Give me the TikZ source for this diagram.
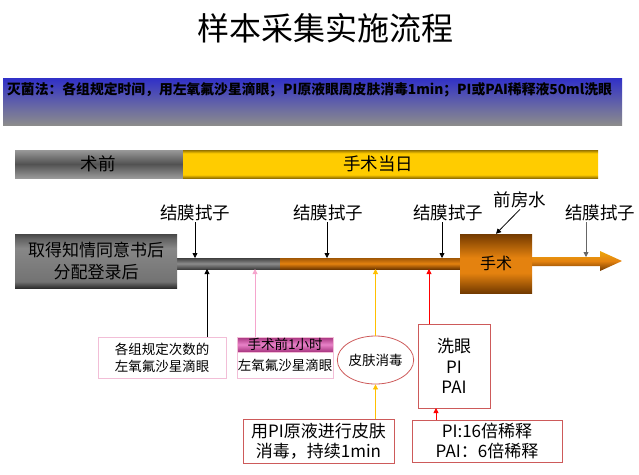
\documentclass[tikz,border=0pt]{standalone}
\usepackage{fontspec}
\setmainfont{Noto Sans CJK SC}
\usetikzlibrary{arrows.meta,positioning,shapes.geometric}
\definecolor{bandblue}{RGB}{48,48,200}
\definecolor{bandgray}{RGB}{140,140,140}
\definecolor{gold}{RGB}{255,204,0}
\definecolor{golddark}{RGB}{150,115,0}
\definecolor{orng}{RGB}{228,130,15}
\definecolor{orngdark}{RGB}{115,58,0}
\definecolor{pinkline}{RGB}{242,190,215}
\definecolor{pinkarrow}{RGB}{245,165,205}
\definecolor{pinkhead}{RGB}{232,130,200}
\definecolor{pinkdark}{RGB}{165,50,125}
\definecolor{redline}{RGB}{205,90,90}
\definecolor{yellowarrow}{RGB}{255,192,0}
\pgfdeclareverticalshading{graybox}{100bp}{color(0bp)=(black!82); color(25bp)=(black!82); color(31bp)=(black!55);
  color(62bp)=(black!47); color(71bp)=(black!62); color(75bp)=(black!72); color(100bp)=(black!72)}
\pgfdeclareverticalshading{goldbar}{100bp}{color(0bp)=(golddark); color(25bp)=(golddark); color(31bp)=(gold);
  color(69bp)=(gold); color(75bp)=(golddark); color(100bp)=(golddark)}
\pgfdeclareverticalshading{orngbox}{100bp}{color(0bp)=(orngdark); color(25bp)=(orngdark); color(42bp)=(orng);
  color(55bp)=(orng); color(75bp)=(orngdark); color(100bp)=(orngdark)}

\begin{document}
\begin{tikzpicture}[x=1pt,y=-1pt,>={Triangle[length=5pt,width=5pt]},
  lbl/.style={font=\fontsize{17.5}{19}\selectfont,inner sep=1pt},
  pinkbox/.style={draw=pinkline,fill=white,align=center,
    font=\fontsize{13.5}{17}\selectfont,inner sep=0pt},
  redbox/.style={draw=redline,fill=white,align=center,
    font=\fontsize{17}{20.5}\selectfont,inner sep=0pt,line width=0.8pt},
  link/.style={->,line width=0.8pt}]

\useasboundingbox (0,0) rectangle (639,474);

\node[font=\fontsize{32}{34}\selectfont] (title) at (325,28) {样本采集实施流程};

% 灭菌法
\shade[top color=bandblue,bottom color=bandgray] (3,78) rectangle (622,125);
\node[anchor=west,inner sep=0pt,font=\bfseries\fontsize{13.8}{16}\selectfont]
  (rule) at (7,90) {灭菌法：各组规定时间，用左氧氟沙星滴眼；PI原液眼周皮肤消毒1min；PI或PAI稀释液50ml洗眼};

% 阶段条
\shade[top color=black!40,bottom color=black!40,middle color=black!68] (15,150) rectangle (183,178);
\shade[shading=goldbar] (183,150) rectangle (598,178);
\node[lbl] (pre) at (98,164) {术前};
\node[lbl] (day) at (378,164) {手术当日};

% 时间轴
\shade[top color=black!75,bottom color=black!75,middle color=black!45] (177,258) rectangle (280,269);
\shade[top color=orngdark!60!orng,bottom color=orngdark,middle color=orng] (280,258) rectangle (460,269);
\shade[top color=orng!70!yellow,bottom color=orngdark,middle color=orng]
  (532,257) -- (600,257) -- (600,251) -- (622,261) -- (600,271) -- (600,266) -- (532,266) -- cycle;

\node[shading=graybox,minimum width=162pt,minimum height=54pt,
  align=center,font=\fontsize{17}{22}\selectfont] (consent) at (96,261) {取得知情同意书后\\分配登录后};
\node[shading=orngbox,minimum width=72pt,
  minimum height=59pt,font=\fontsize{16}{18}\selectfont] (op) at (496,263.5) {手术};

% 结膜拭子
\foreach \i/\lx/\ax in {1/195/195,2/328/327,3/448/442,4/600/586}{
  \node[lbl] (swab\i) at (\lx,213) {结膜拭子};
  \coordinate (hit\i) at (\ax,258);
}
\foreach \i in {1,2,3}{
  \draw[link] (swab\i.south -| hit\i) -- (hit\i);}
\draw[link,black!60] (swab4.south -| hit4) -- ([yshift=1pt]hit4);

\node[lbl] (aq) at (520,200) {前房水};
\draw[link] (aq.south) -- (op.north);

% 下方说明
\node[pinkbox,minimum width=128pt,minimum height=41pt] (drops) at (162,357.5) {各组规定次数的\\左氧氟沙星滴眼};
\node[pinkbox,top color=pinkdark,bottom color=pinkdark,middle color=pinkhead,
  minimum width=96pt,minimum height=15pt] (pre1h) at (285,344.5) {手术前1小时};
\node[pinkbox,minimum width=96pt,minimum height=26pt,anchor=north] (drops1h) at (pre1h.south) {左氧氟沙星滴眼};
\node[draw=redline,ellipse,line width=0.8pt,minimum width=73pt,minimum height=48pt,inner sep=0pt,
  font=\fontsize{13.5}{16}\selectfont] (skin) at (375.5,360) {皮肤消毒};
\node[redbox,minimum width=72pt,minimum height=84pt] (wash) at (454,366) {洗眼\\PI\\PAI};
\node[redbox,minimum width=151pt,minimum height=44pt] (pisolve) at (318.5,441) {用PI原液进行皮肤\\消毒，持续1min};
\node[redbox,minimum width=150pt,minimum height=42pt] (dilute) at (487,441) {PI:16倍稀释\\PAI：6倍稀释};

\coordinate (up1) at (207,269);
\coordinate (up2) at (255,269);
\coordinate (up3) at (375.5,269);
\coordinate (up4) at (429,269);
\coordinate (washin) at (436,408);
\draw[link] (drops.north -| up1) -- (up1);
\draw[link,pinkarrow] (pre1h.north -| up2) -- (up2);
\draw[link,yellowarrow] (skin.north) -- (up3);
\draw[link,red] (wash.north -| up4) -- (up4);
\draw[link,yellowarrow] (pisolve.north -| skin) -- (skin.south);
\draw[link,red] (dilute.north -| washin) -- (washin);
\end{tikzpicture}
\end{document}
